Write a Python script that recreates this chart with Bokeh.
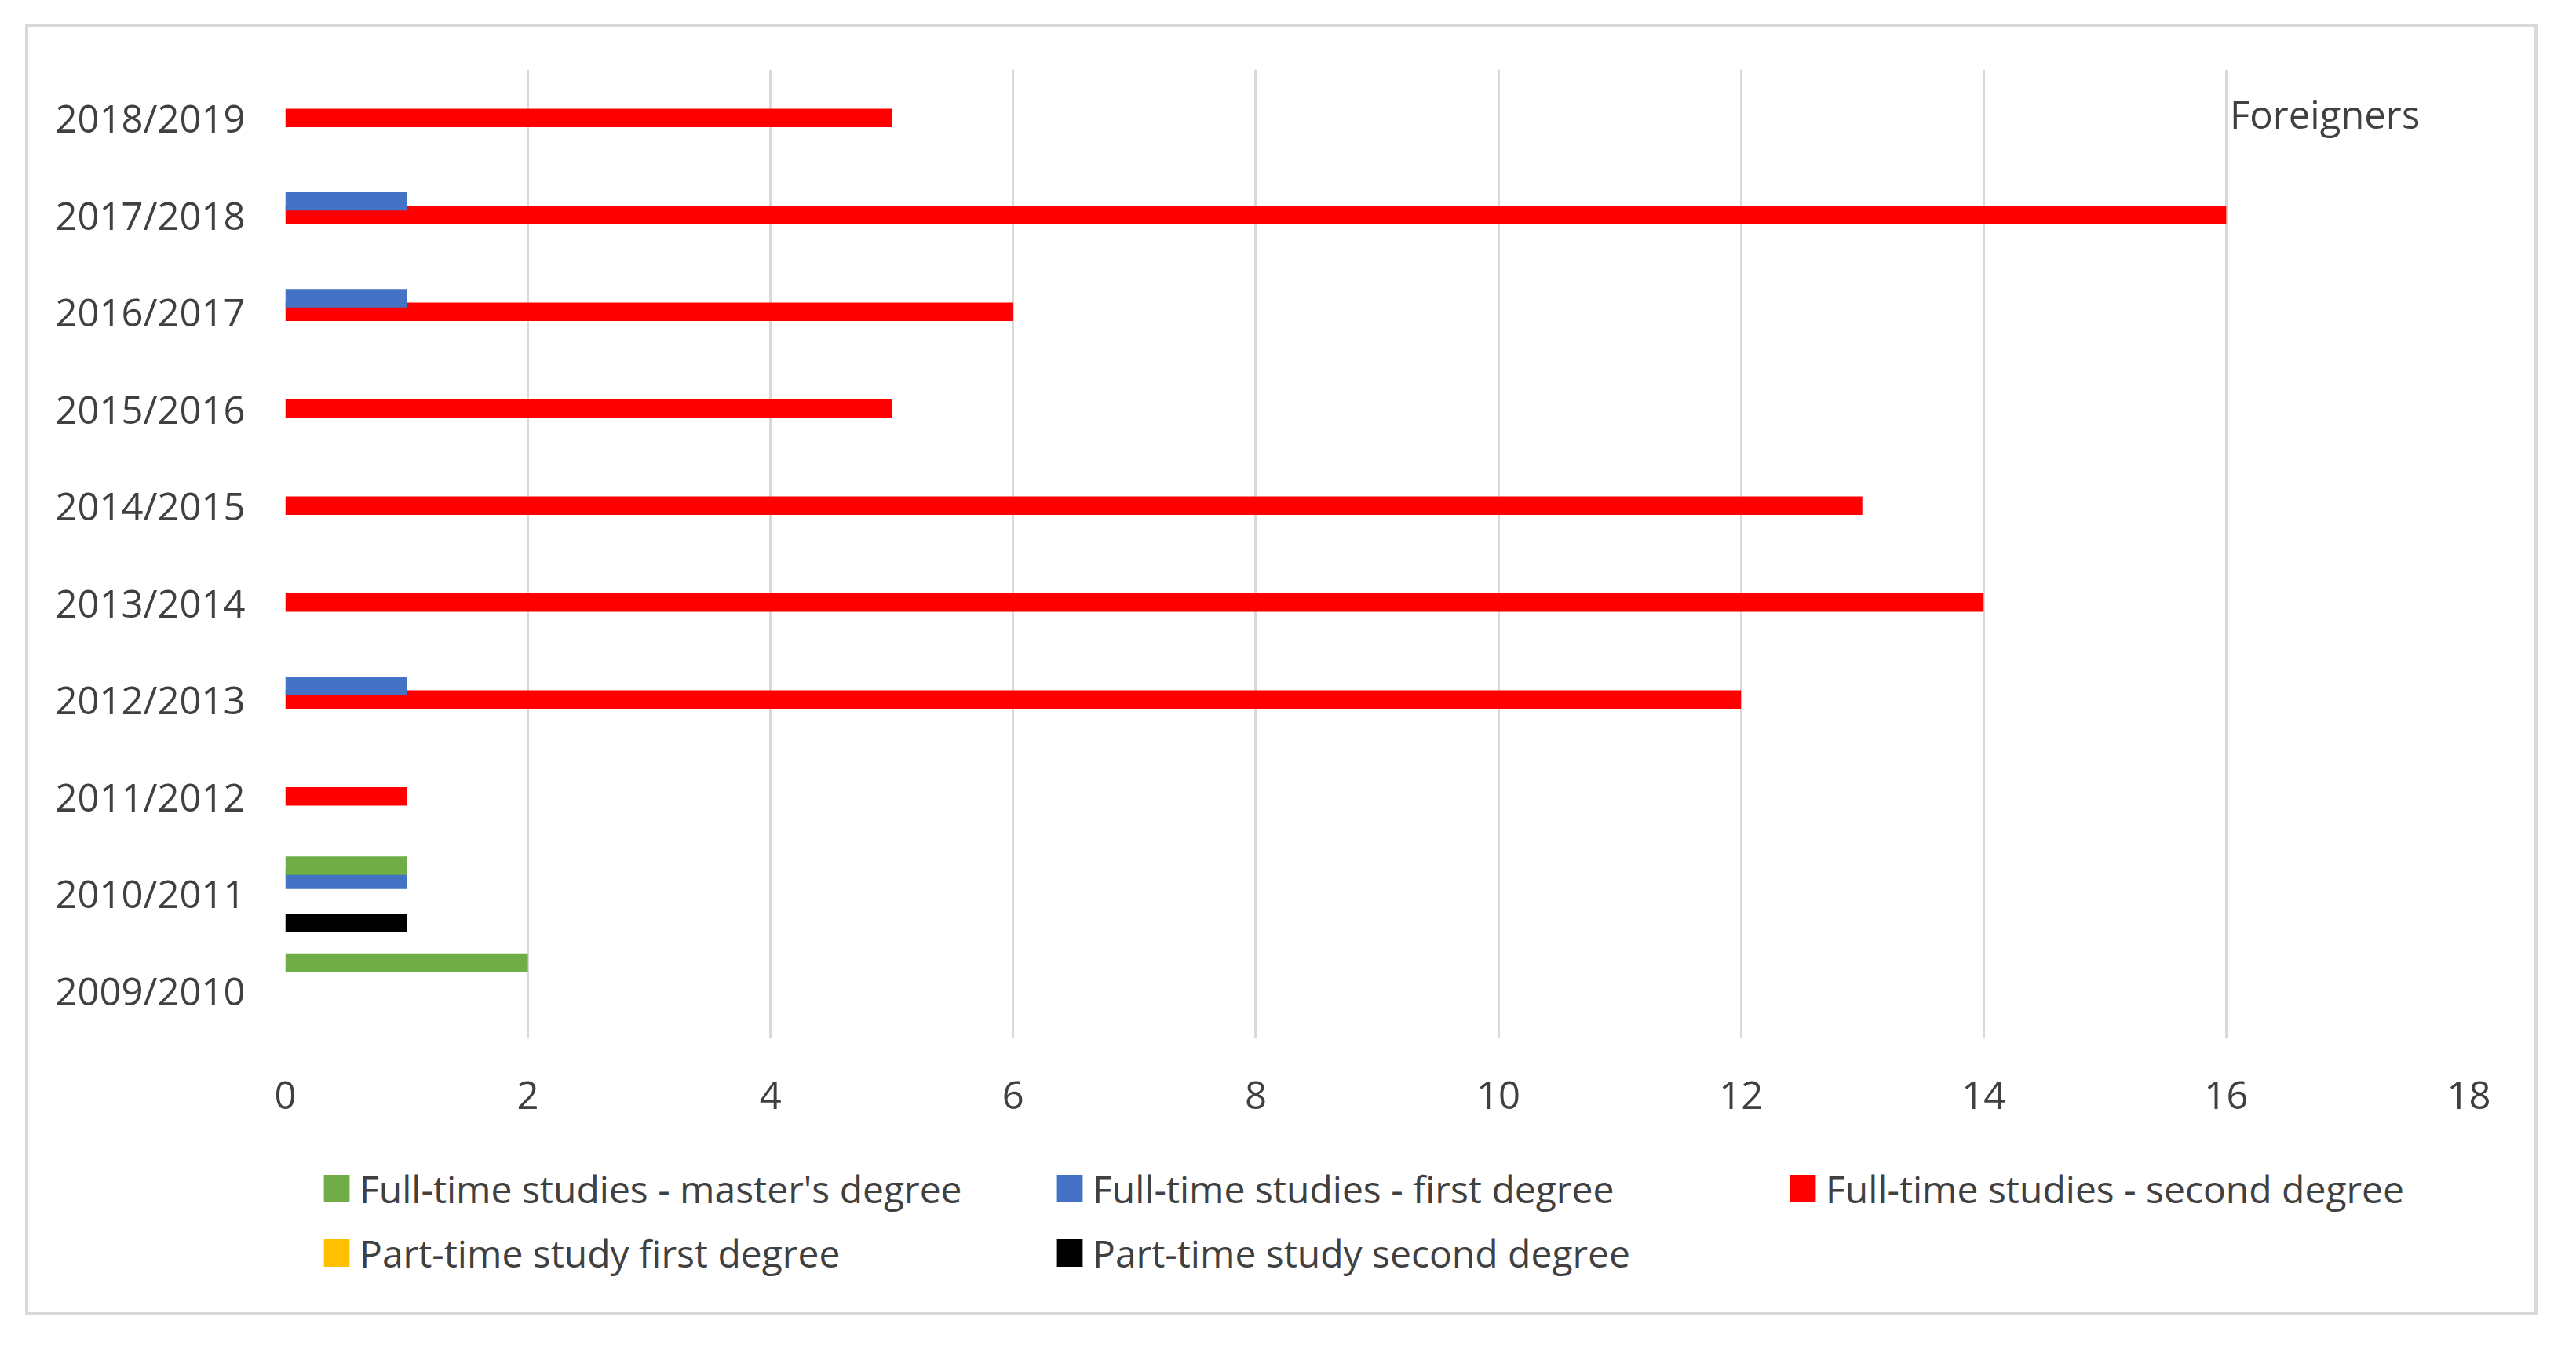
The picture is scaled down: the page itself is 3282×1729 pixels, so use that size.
from bokeh.plotting import figure
from bokeh.layouts import column
from bokeh.models import (FactorRange, Range1d, FixedTicker, Legend, LegendItem,
                          Label, ColumnDataSource)
from bokeh.transform import dodge
from bokeh.embed import file_html
from bokeh.resources import INLINE

# ---------------- data ----------------
years = ["2009/2010", "2010/2011", "2011/2012", "2012/2013", "2013/2014",
         "2014/2015", "2015/2016", "2016/2017", "2017/2018", "2018/2019"]
ft_masters = [2, 1, 0, 0, 0, 0, 0, 0, 0, 0]
ft_first = [0, 1, 0, 1, 0, 0, 0, 1, 1, 0]
ft_second = [0, 0, 1, 12, 14, 13, 5, 6, 16, 5]
pt_first = [0, 0, 0, 0, 0, 0, 0, 0, 0, 0]
pt_second = [0, 1, 0, 0, 0, 0, 0, 0, 0, 0]
x_ticks = [0, 2, 4, 6, 8, 10, 12, 14, 16, 18]
series_names = ["Full-time studies - master's degree",
                "Full-time studies - first degree",
                "Full-time studies - second degree",
                "Part-time study first degree",
                "Part-time study second degree"]
chart_label = "Foreigners"

# ---------------- style ----------------
FONT = "Open Sans"
FS = "49px"
LFS = "48px"
TXT = "#404040"
GRID = "#d9d9d9"
colors = ["#70AD47", "#4472C4", "#FF0000", "#FFC000", "#000000"]
offsets = [0.285, 0.14, 0.0, -0.15, -0.305]
BAR_H = 0.19
W = 3193

src = ColumnDataSource(dict(year=years, s0=ft_masters, s1=ft_first, s2=ft_second,
                            s3=pt_first, s4=pt_second))

# ---------------- main chart ----------------
p = figure(width=W, height=1425,
           y_range=FactorRange(factors=years),
           x_range=Range1d(0, 18),
           output_backend="svg", toolbar_location=None,
           min_border_left=327, min_border_right=84,
           min_border_top=53, min_border_bottom=137)
p.outline_line_color = None
p.background_fill_color = "white"
p.border_fill_color = "white"

for i in [4, 3, 2, 1, 0]:
    p.hbar(y=dodge("year", offsets[i], range=p.y_range), left=0, right="s%d" % i,
           height=BAR_H, source=src, fill_color=colors[i], line_color=None)

p.xaxis.ticker = FixedTicker(ticks=x_ticks)
for ax in (p.xaxis[0], p.yaxis[0]):
    ax.axis_line_color = None
    ax.major_tick_line_color = None
    ax.minor_tick_line_color = None
    ax.major_label_text_font = FONT
    ax.major_label_text_font_size = FS
    ax.major_label_text_color = TXT
p.xaxis.major_label_standoff = 48
p.yaxis.major_label_standoff = 45

p.xgrid.grid_line_color = GRID
p.xgrid.grid_line_width = 3
p.ygrid.grid_line_color = None

p.add_layout(Label(x=16.03, y=9.54, text=chart_label, text_font=FONT,
                   text_font_size=FS, text_color=TXT, text_baseline="middle"))

# ---------------- legend strip ----------------
pl = figure(width=W, height=212, x_range=Range1d(0, 1),
            y_range=FactorRange(factors=years),
            output_backend="svg", toolbar_location=None,
            x_axis_type=None, y_axis_type=None,
            min_border=0, min_border_left=0, min_border_right=0,
            min_border_top=0, min_border_bottom=0)
pl.outline_line_color = None
pl.xgrid.visible = False
pl.ygrid.visible = False
pl.background_fill_color = "white"
pl.border_fill_color = "white"

leg_r = []
for i in range(5):
    r = pl.hbar(y="year", left=0, right="s%d" % i, height=BAR_H, source=src,
                fill_color=colors[i], line_color=None)
    r.visible = False
    leg_r.append(r)

items = [LegendItem(label=series_names[i], renderers=[leg_r[i]]) for i in range(5)]
legend = Legend(items=items, orientation="horizontal", ncols=3,
                location=(45, 35), click_policy="none",
                glyph_width=41, glyph_height=44, label_standoff=9,
                label_width=884, label_height=82, spacing=0,
                padding=0, margin=0, border_line_color=None,
                background_fill_alpha=0, inactive_fill_alpha=0,
                label_text_font=FONT, label_text_font_size=LFS,
                label_text_color=TXT)
pl.add_layout(legend, "center")

layout = column(p, pl, spacing=0)
layout.margin = (31, 0, 0, 32)
layout.styles = {"border": "4px solid #d9d9d9", "box-sizing": "content-box",
                 "background-color": "white"}

open("out.html", "w").write(file_html(layout, INLINE))
